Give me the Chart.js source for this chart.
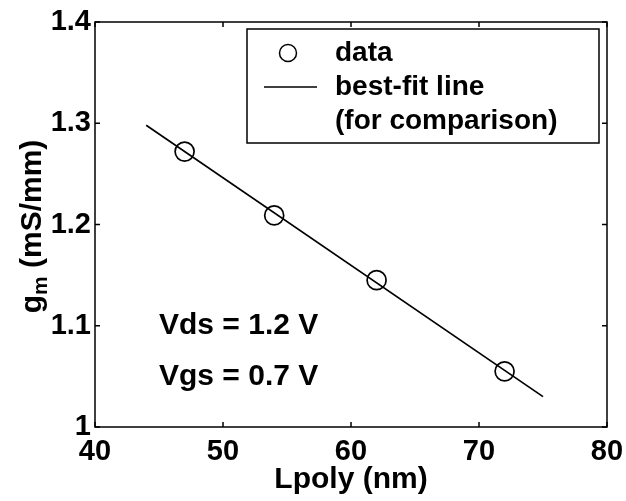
<!DOCTYPE html>
<html>
<head>
<meta charset="utf-8">
<script src="https://cdn.jsdelivr.net/npm/chart.js@4.4.0/dist/chart.umd.min.js"></script>
<style>
  html, body { margin: 0; padding: 0; background: #fff; }
  #wrap { width: 626px; height: 501px; }
</style>
</head>
<body>
<div id="wrap"><canvas id="gmChart"></canvas></div>
<script>
// data
const lpoly = [47, 54, 62, 72];
const gm = [1.272, 1.209, 1.145, 1.055];
const fitX = [44, 75];
const fitY = [1.298, 1.030];
const xTicks = [40, 50, 60, 70, 80];
const yTicks = [1, 1.1, 1.2, 1.3, 1.4];
const legendLabels = ['data', 'best-fit line', '(for comparison)'];
const notes = ['Vds = 1.2 V', 'Vgs = 0.7 V'];

const FAMILY = '"Liberation Sans", Arial, sans-serif';
const FONT = 'bold 30px ' + FAMILY;
const LEGEND_FONT = 'bold 28px ' + FAMILY;

// frame, inward ticks, legend box, notes and y title
const decorations = {
    id: 'decorations',
    afterDatasetsDraw(chart) {
        const ctx = chart.ctx;
        const a = chart.chartArea;
        const xs = chart.scales.x, ys = chart.scales.y;
        ctx.save();
        ctx.strokeStyle = '#000';
        ctx.lineWidth = 1.5;
        ctx.strokeRect(a.left, a.top, a.right - a.left, a.bottom - a.top);

        // inward ticks on all four sides
        const tl = 5;
        ctx.beginPath();
        xs.ticks.forEach(t => {
            const px = xs.getPixelForValue(t.value);
            ctx.moveTo(px, a.bottom); ctx.lineTo(px, a.bottom - tl);
            ctx.moveTo(px, a.top); ctx.lineTo(px, a.top + tl);
        });
        ys.ticks.forEach(t => {
            const py = ys.getPixelForValue(t.value);
            ctx.moveTo(a.left, py); ctx.lineTo(a.left + tl, py);
            ctx.moveTo(a.right, py); ctx.lineTo(a.right - tl, py);
        });
        ctx.stroke();

        // legend box
        const bx = a.right - 360, by = a.top + 7, bw = 352, bh = 114;
        ctx.fillStyle = '#fff';
        ctx.fillRect(bx, by, bw, bh);
        ctx.lineWidth = 1.5;
        ctx.strokeRect(bx, by, bw, bh);
        ctx.fillStyle = '#000';
        ctx.font = LEGEND_FONT;
        ctx.textBaseline = 'middle';
        ctx.textAlign = 'left';
        const rows = [by + 24, by + 58, by + 92];
        ctx.beginPath();
        ctx.arc(bx + 41, rows[0], 8.5, 0, Math.PI * 2);
        ctx.stroke();
        ctx.beginPath();
        ctx.moveTo(bx + 17, rows[1]);
        ctx.lineTo(bx + 70, rows[1]);
        ctx.stroke();
        legendLabels.forEach((s, i) => ctx.fillText(s, bx + 88, rows[i]));

        // condition notes, placed in data coordinates
        ctx.font = FONT;
        ctx.fillText(notes[0], xs.getPixelForValue(45), ys.getPixelForValue(1.1));
        ctx.fillText(notes[1], xs.getPixelForValue(45), ys.getPixelForValue(1.05));

        // y title with subscript
        const cy = (a.top + a.bottom) / 2 + 2;
        ctx.translate(41, cy);
        ctx.rotate(-Math.PI / 2);
        ctx.textBaseline = 'alphabetic';
        const small = 'bold 21px ' + FAMILY;
        ctx.font = FONT;
        const wg = ctx.measureText('g').width;
        const wr = ctx.measureText(' (mS/mm)').width;
        ctx.font = small;
        const wm = ctx.measureText('m').width;
        const x0 = -(wg + wm + wr) / 2;
        ctx.font = FONT;
        ctx.fillText('g', x0, 0);
        ctx.font = small;
        ctx.fillText('m', x0 + wg, 6);
        ctx.font = FONT;
        ctx.fillText(' (mS/mm)', x0 + wg + wm, 0);
        ctx.restore();
    }
};

new Chart(document.getElementById('gmChart'), {
    type: 'scatter',
    data: {
        datasets: [{
            label: 'data',
            data: lpoly.map((v, i) => ({ x: v, y: gm[i] })),
            pointStyle: 'circle',
            pointRadius: 9.5,
            pointBorderWidth: 1.7,
            pointBackgroundColor: 'rgba(0,0,0,0)',
            pointBorderColor: '#000',
            showLine: false
        }, {
            label: 'best-fit line',
            data: fitX.map((v, i) => ({ x: v, y: fitY[i] })),
            showLine: true,
            borderColor: '#000',
            borderWidth: 1.7,
            pointRadius: 0
        }]
    },
    options: {
        responsive: true,
        maintainAspectRatio: false,
        animation: false,
        layout: { padding: { top: 22, right: 19, left: 0, bottom: 0 } },
        plugins: {
            legend: { display: false },
            tooltip: { enabled: false }
        },
        scales: {
            x: {
                min: 40, max: 80,
                afterBuildTicks: s => { s.ticks = xTicks.map(v => ({ value: v })); },
                afterFit: s => { s.height = 74; s.paddingLeft = 0; s.paddingRight = 0; },
                grid: { display: false, drawTicks: false },
                border: { display: false },
                ticks: { color: '#000', font: { family: FAMILY, size: 29, weight: 'bold' }, padding: 8, maxRotation: 0 },
                title: {
                    display: true, text: 'Lpoly (nm)', color: '#000',
                    font: { family: FAMILY, size: 30, weight: 'bold' },
                    padding: { top: 0, bottom: 3 }
                }
            },
            y: {
                min: 1, max: 1.4,
                afterBuildTicks: s => { s.ticks = yTicks.map(v => ({ value: v })); },
                afterFit: s => { s.width = 95; s.paddingTop = 0; s.paddingBottom = 0; },
                grid: { display: false, drawTicks: false },
                border: { display: false },
                ticks: {
                    color: '#000', padding: 4,
                    font: { family: FAMILY, size: 29, weight: 'bold' },
                    callback: v => String(Math.round(v * 10) / 10)
                }
            }
        }
    },
    plugins: [decorations]
});
</script>
</body>
</html>
